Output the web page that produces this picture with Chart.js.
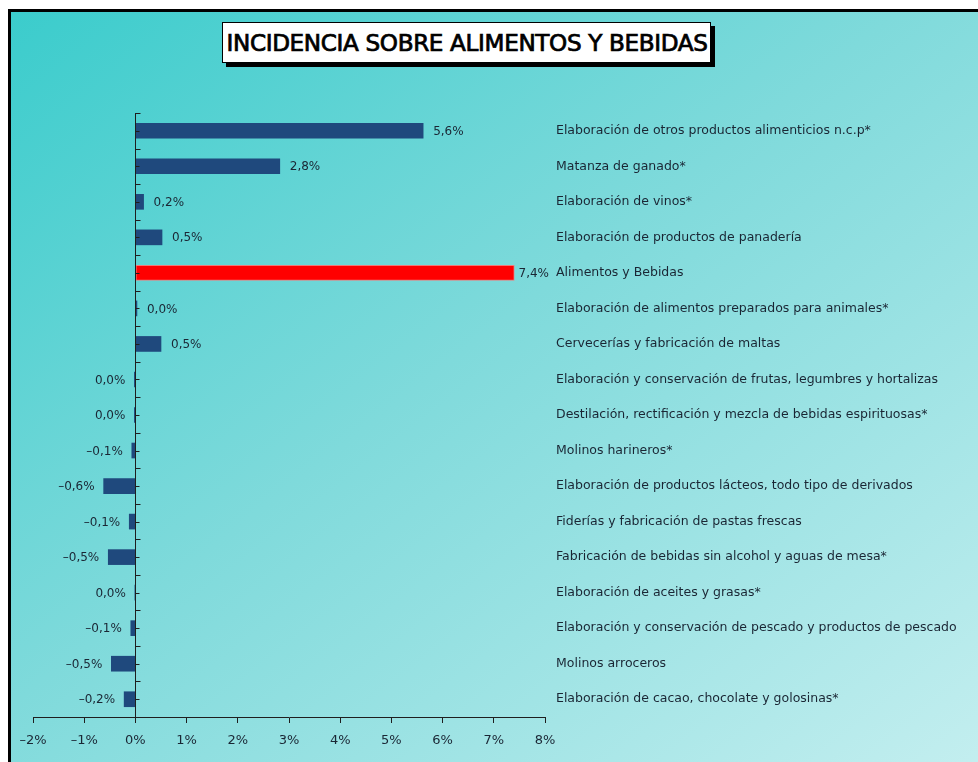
<!DOCTYPE html>
<html>
<head>
<meta charset="utf-8">
<script src="https://cdn.jsdelivr.net/npm/chart.js@4.4.1/dist/chart.umd.min.js"></script>
<style>
  html, body { margin: 0; padding: 0; background: #fff; overflow: hidden; }
  #wrap { position: relative; width: 978px; height: 762px; overflow: hidden; }
  #bg {
    position: absolute; left: 8px; top: 9px; right: -20px; bottom: -20px;
    border-top: 3px solid #000; border-left: 3px solid #000;
    background: linear-gradient(to bottom right, #3bcccc 0%, #7fdadb 45%, #c6eff0 100%);
  }
  #title {
    position: absolute; left: 222px; top: 22px; width: 487px; height: 39px;
    background: #fff; border: 1px solid #000; box-shadow: 4px 4px 0 #000;
    overflow: hidden;
  }
  #title span {
    position: absolute; left: 50%; top: 0;
    font-family: "Liberation Sans Narrow", "DejaVu Sans Condensed", "Liberation Sans", sans-serif;
    font-size: 23px; font-weight: normal; line-height: 41px; color: #000; white-space: nowrap;
    -webkit-text-stroke: 0.7px #000; letter-spacing: -0.3px;
  }
  canvas { position: absolute; left: 0; top: 0; }
</style>
</head>
<body>
<div id="wrap">
  <div id="bg"></div>
  <div id="title"><span id="titleText">INCIDENCIA SOBRE ALIMENTOS Y BEBIDAS</span></div>
  <canvas id="chart" width="978" height="762"></canvas>
</div>
<script>
// categorias, de arriba hacia abajo
const categories = [
  'Elaboración de otros productos alimenticios n.c.p*',
  'Matanza de ganado*',
  'Elaboración de vinos*',
  'Elaboración de productos de panadería',
  'Alimentos y Bebidas',
  'Elaboración de alimentos preparados para animales*',
  'Cervecerías y fabricación de maltas',
  'Elaboración y conservación de frutas, legumbres y hortalizas',
  'Destilación, rectificación y mezcla de bebidas espirituosas*',
  'Molinos harineros*',
  'Elaboración de productos lácteos, todo tipo de derivados',
  'Fiderías y fabricación de pastas frescas',
  'Fabricación de bebidas sin alcohol y aguas de mesa*',
  'Elaboración de aceites y grasas*',
  'Elaboración y conservación de pescado y productos de pescado',
  'Molinos arroceros',
  'Elaboración de cacao, chocolate y golosinas*'
];
// incidencia en %
const incidencia = [5.62, 2.82, 0.16, 0.52, 7.4, 0.03, 0.5, -0.02, -0.02, -0.07, -0.62, -0.12, -0.53, -0.01, -0.09, -0.47, -0.22];
const xTicks = [-2, -1, 0, 1, 2, 3, 4, 5, 6, 7, 8];
const totalLabel = 'Alimentos y Bebidas';

// ajustar ancho del titulo
(function () {
  const s = document.getElementById('titleText');
  const w = s.getBoundingClientRect().width;
  s.style.transform = 'translateX(-50%) scaleX(' + (481 / w) + ')';
})();

function fmt(v) {
  if (Math.abs(v) < 0.05) return '0,0%';
  const t = Math.abs(v).toFixed(1).replace('.', ',') + '%';
  return v < 0 ? '–' + t : t;
}

const axisColor = '#1e1e1e';
const labelColor = '#1a2634';

// linea vertical en el 0 con sus marcas
const zeroAxis = {
  id: 'zeroAxis',
  afterDatasetsDraw(chart) {
    const ctx = chart.ctx;
    const x0 = Math.round(chart.scales.x.getPixelForValue(0)) + 0.5;
    const ys = chart.scales.y;
    const area = chart.chartArea;
    ctx.save();
    ctx.strokeStyle = axisColor;
    ctx.lineWidth = 1;
    ctx.beginPath();
    ctx.moveTo(x0, area.top);
    ctx.lineTo(x0, area.bottom);
    const step = (area.bottom - area.top) / categories.length;
    for (let i = 0; i < categories.length; i++) {
      const yb = Math.round(area.top + i * step) + 0.5;
      ctx.moveTo(x0, yb);
      ctx.lineTo(x0 + 5, yb);
      const yc = Math.round(ys.getPixelForValue(i)) + 0.5;
      ctx.moveTo(x0, yc);
      ctx.lineTo(x0 + 4, yc);
    }
    ctx.stroke();
    ctx.restore();
  }
};

// etiquetas de valor
const valueLabels = {
  id: 'valueLabels',
  afterDatasetsDraw(chart) {
    const ctx = chart.ctx;
    const meta = chart.getDatasetMeta(0);
    const right = chart.scales.x.right;
    ctx.save();
    ctx.font = '12px "DejaVu Sans"';
    ctx.fillStyle = labelColor;
    ctx.textBaseline = 'middle';
    meta.data.forEach(function (bar, i) {
      const v = incidencia[i];
      const txt = fmt(v);
      const w = ctx.measureText(txt).width;
      if (v >= 0) {
        ctx.textAlign = 'left';
        ctx.fillText(txt, Math.min(bar.x + 10, right + 4 - w), bar.y + 1);
      } else {
        ctx.textAlign = 'right';
        ctx.fillText(txt, Math.min(bar.x, bar.base) - 9, bar.y + 1);
      }
    });
    ctx.restore();
  }
};

new Chart(document.getElementById('chart'), {
  type: 'bar',
  plugins: [zeroAxis, valueLabels],
  data: {
    labels: categories,
    datasets: [{
      data: incidencia,
      backgroundColor: categories.map(c => c === totalLabel ? '#ff0000' : '#1f497d'),
      borderColor: categories.map(c => c === totalLabel ? '#f07a7a' : '#1f497d'),
      borderWidth: categories.map(c => c === totalLabel ? 1 : 0),
      borderSkipped: false,
      barThickness: 15
    }]
  },
  options: {
    indexAxis: 'y',
    responsive: false,
    animation: false,
    layout: { padding: { left: 33, top: 113, right: 0, bottom: 0 } },
    plugins: { legend: { display: false }, tooltip: { enabled: false } },
    scales: {
      x: {
        min: -2,
        max: 8,
        afterFit(s) { s.height = 45; },
        afterBuildTicks(s) { s.ticks = xTicks.map(v => ({ value: v })); },
        border: { display: true, color: axisColor, width: 1 },
        grid: { display: true, drawOnChartArea: false, drawTicks: true, tickLength: 6, color: axisColor },
        ticks: {
          padding: 10,
          color: labelColor,
          font: { family: 'DejaVu Sans', size: 13 },
          callback: v => (v < 0 ? '–' + Math.abs(v) : v) + '%'
        }
      },
      y: {
        position: 'right',
        afterFit(s) { s.width = 433; },
        border: { display: false },
        grid: { display: false, drawTicks: false },
        ticks: {
          padding: 11,
          color: labelColor,
          font: { family: 'DejaVu Sans', size: 12.5 }
        }
      }
    }
  }
});
</script>
</body>
</html>
